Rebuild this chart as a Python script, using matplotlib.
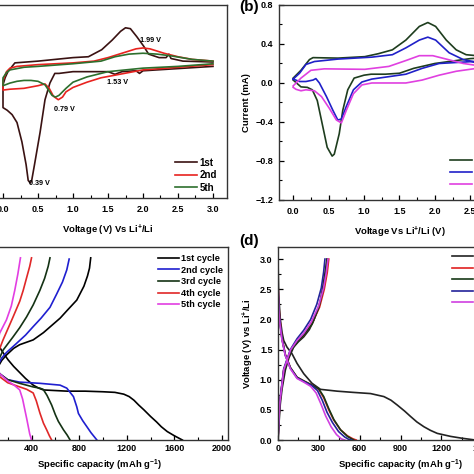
import matplotlib
matplotlib.use("Agg")
import matplotlib.pyplot as plt
from matplotlib.ticker import MultipleLocator

plt.rcParams['font.family'] = ['Liberation Sans', 'DejaVu Sans']
plt.rcParams['font.weight'] = 'bold'
plt.rcParams['mathtext.fontset'] = 'custom'
plt.rcParams['mathtext.rm'] = 'Liberation Sans:bold'
plt.rcParams['mathtext.it'] = 'Liberation Sans:bold'
plt.rcParams['mathtext.bf'] = 'Liberation Sans:bold'

# ---- (a) CV, cycles 1, 2, 5 ----
a_v1 = [3.0, 2.6, 2.2, 2.0, 1.95, 1.9, 1.7, 1.6, 1.5, 1.4, 1.0, 0.9, 0.8, 0.74, 0.67, 0.6, 0.53, 0.45,
        0.41, 0.39, 0.36, 0.33, 0.27, 0.2, 0.13, 0.06, 0.0, 0.0, 0.03, 0.07, 0.13, 0.17, 0.5, 1.0, 1.22,
        1.41, 1.56, 1.68, 1.75, 1.82, 1.91, 2.01, 2.08, 2.23, 2.33, 2.37, 2.4, 2.57, 3.0]
a_i1 = [-0.10, -0.12, -0.14, -0.15, -0.18, -0.15, -0.16, -0.19, -0.16, -0.16, -0.16, -0.17, -0.18,
        -0.18, -0.29, -0.48, -0.85, -1.22, -1.40, -1.43, -1.40, -1.22, -0.96, -0.74, -0.65, -0.60,
        -0.57, -0.31, -0.23, -0.16, -0.10, -0.06, -0.04, 0.00, 0.01, 0.09, 0.20, 0.30, 0.34, 0.33,
        0.24, 0.13, 0.04, 0.00, 0.00, 0.04, -0.01, -0.04, -0.05]

a_v2 = [3.0, 2.5, 2.0, 1.6, 1.4, 1.2, 1.0, 0.9, 0.85, 0.79, 0.72, 0.66, 0.6, 0.5, 0.3, 0.1, 0.0,
        0.0, 0.05, 0.1, 0.2, 0.5, 1.0, 1.3, 1.5, 1.7, 1.9, 2.0, 2.1, 2.3, 2.5, 2.7, 3.0]
a_i2 = [-0.08, -0.11, -0.14, -0.20, -0.23, -0.28, -0.34, -0.39, -0.45, -0.48, -0.44, -0.35, -0.30,
        -0.32, -0.35, -0.36, -0.37, -0.26, -0.16, -0.12, -0.10, -0.08, -0.06, -0.04, 0.00, 0.05,
        0.10, 0.11, 0.10, 0.05, 0.01, -0.02, -0.04]

a_v5 = [3.0, 2.5, 2.0, 1.5, 1.2, 1.0, 0.9, 0.8, 0.75, 0.7, 0.6, 0.5, 0.4, 0.3, 0.2, 0.1, 0.0,
        0.0, 0.05, 0.1, 0.3, 0.5, 1.0, 1.4, 1.6, 1.8, 2.0, 2.2, 2.4, 2.7, 3.0]
a_i5 = [-0.07, -0.10, -0.12, -0.16, -0.22, -0.28, -0.35, -0.43, -0.45, -0.43, -0.31, -0.27,
        -0.26, -0.26, -0.27, -0.29, -0.32, -0.23, -0.17, -0.14, -0.11, -0.10, -0.07, -0.04, 0.01,
        0.04, 0.05, 0.04, 0.02, -0.02, -0.04]

a_labels = ['1st', '2nd', '5th']
a_peaks = [(1.96, 0.19, '1.99 V'), (1.49, -0.28, '1.53 V'), (0.73, -0.59, '0.79 V'), (0.37, -1.43, '0.39 V')]

# ---- (b) CV ----
b_v1 = [0.0, 0.11, 0.23, 0.28, 0.63, 1.01, 1.2, 1.4, 1.59, 1.78, 1.9, 2.01, 2.16, 2.3, 2.44, 2.59, 3.0,
        2.5, 2.0, 1.7, 1.5, 1.3, 1.1, 1.0, 0.86, 0.77, 0.7, 0.65, 0.58, 0.55, 0.48, 0.41, 0.34, 0.27,
        0.2, 0.11, 0.0]
b_i1 = [0.05, 0.13, 0.24, 0.26, 0.255, 0.27, 0.30, 0.34, 0.44, 0.58, 0.62, 0.58, 0.44, 0.34, 0.29,
        0.28, 0.27, 0.25, 0.20, 0.15, 0.10, 0.09, 0.09, 0.08, 0.05, -0.07, -0.28, -0.52, -0.73, -0.75,
        -0.66, -0.42, -0.18, -0.07, -0.045, -0.04, 0.03]

b_v2 = [0.0, 0.09, 0.18, 0.3, 0.63, 1.11, 1.4, 1.59, 1.78, 1.9, 2.01, 2.2, 2.4, 2.59, 3.0,
        2.54, 2.06, 1.82, 1.59, 1.4, 1.11, 0.97, 0.85, 0.75, 0.68, 0.63, 0.56, 0.47, 0.37, 0.32,
        0.28, 0.18, 0.09, 0.0]
b_i2 = [0.04, 0.10, 0.19, 0.22, 0.245, 0.265, 0.29, 0.36, 0.44, 0.47, 0.44, 0.31, 0.24, 0.21, 0.20,
        0.22, 0.20, 0.15, 0.09, 0.07, 0.04, 0.01, -0.07, -0.24, -0.37, -0.38, -0.28, -0.14, 0.00,
        0.045, 0.03, 0.015, 0.015, 0.04]

b_v3 = [0.0, 0.11, 0.25, 0.44, 1.01, 1.35, 1.59, 1.78, 1.97, 2.16, 2.4, 2.59, 3.0,
        2.59, 2.3, 2.06, 1.82, 1.59, 1.35, 1.11, 0.97, 0.85, 0.75, 0.68, 0.61, 0.51, 0.4, 0.3, 0.18,
        0.11, 0.04, 0.0]
b_i3 = [-0.03, 0.05, 0.13, 0.145, 0.14, 0.17, 0.23, 0.28, 0.28, 0.245, 0.20, 0.18, 0.17,
        0.15, 0.12, 0.08, 0.03, 0.00, 0.00, 0.00, -0.02, -0.11, -0.28, -0.41, -0.38, -0.26, -0.14,
        -0.08, -0.07, -0.08, -0.065, -0.045]

b_labels = ['1st', '2nd', '5th']

# ---- (c) charge/discharge ----
c1_dis_q = [0, 20, 50, 100, 150, 203, 250, 300, 350, 414, 460, 500, 600, 700, 850, 1000, 1100, 1175,
            1220, 1260, 1300, 1344, 1400, 1450, 1490, 1540, 1600, 1667]
c1_dis_v = [3.0, 2.3, 1.9, 1.65, 1.48, 1.33, 1.22, 1.12, 1.02, 0.91, 0.86, 0.83, 0.82, 0.81, 0.81, 0.8,
            0.79, 0.76, 0.72, 0.66, 0.58, 0.5, 0.39, 0.3, 0.22, 0.14, 0.07, 0.0]
c1_ch_q = [0, 20, 50, 100, 150, 190, 250, 300, 414, 500, 640, 700, 780, 840, 870, 887, 897]
c1_ch_v = [0.0, 0.5, 0.9, 1.15, 1.32, 1.41, 1.52, 1.58, 1.66, 1.78, 2.02, 2.15, 2.32, 2.55, 2.72, 2.85, 3.02]

c2_dis_q = [0, 30, 80, 132, 200, 300, 470, 640, 696, 752, 780, 794, 830, 865, 900, 949]
c2_dis_v = [3.0, 2.0, 1.4, 1.1, 1.0, 0.96, 0.94, 0.91, 0.86, 0.72, 0.55, 0.44, 0.32, 0.22, 0.12, 0.0]
c2_ch_q = [0, 20, 50, 100, 150, 189, 273, 350, 414, 480, 555, 611, 660, 696, 716]
c2_ch_v = [0.0, 0.5, 0.9, 1.18, 1.36, 1.45, 1.6, 1.74, 1.88, 2.02, 2.2, 2.42, 2.62, 2.82, 3.0]

c3_dis_q = [0, 30, 80, 132, 200, 300, 414, 470, 498, 530, 569, 600, 625, 668, 700, 724]
c3_dis_v = [3.0, 1.9, 1.3, 1.1, 1.0, 0.94, 0.88, 0.86, 0.84, 0.74, 0.58, 0.42, 0.31, 0.17, 0.08, 0.0]
c3_ch_q = [0, 20, 50, 100, 161, 245, 300, 358, 414, 470, 510, 540, 555]
c3_ch_v = [0.0, 0.5, 0.9, 1.22, 1.49, 1.71, 1.86, 2.04, 2.24, 2.48, 2.68, 2.88, 3.02]

c4_dis_q = [0, 30, 80, 132, 200, 301, 360, 414, 440, 470, 500, 527, 550, 569]
c4_dis_v = [3.0, 1.8, 1.25, 1.05, 0.95, 0.88, 0.84, 0.78, 0.65, 0.45, 0.28, 0.17, 0.07, 0.0]
c4_ch_q = [0, 20, 50, 100, 161, 245, 301, 330, 360, 385, 400]
c4_ch_v = [0.0, 0.5, 0.95, 1.35, 1.66, 2.04, 2.3, 2.48, 2.7, 2.88, 3.02]

c5_dis_q = [0, 30, 80, 132, 200, 260, 301, 325, 344, 360, 372, 385, 400]
c5_dis_v = [3.0, 1.7, 1.2, 1.1, 0.98, 0.9, 0.83, 0.68, 0.5, 0.35, 0.23, 0.1, 0.0]
c5_ch_q = [0, 20, 50, 100, 132, 189, 230, 259, 285, 307]
c5_ch_v = [0.0, 0.5, 1.0, 1.5, 1.77, 1.99, 2.22, 2.48, 2.75, 3.02]

c_labels = ['1st cycle', '2nd cycle', '3rd cycle', '4th cycle', '5th cycle']

# ---- (d) charge/discharge ----
d1_dis_q = [0, 5, 17, 30, 42, 66, 103, 140, 189, 250, 312, 434, 550, 680, 778, 830, 876, 930, 974,
            1020, 1072, 1120, 1170, 1268, 1350, 1450]
d1_dis_v = [3.0, 2.4, 2.0, 1.78, 1.65, 1.54, 1.43, 1.27, 1.1, 0.94, 0.84, 0.81, 0.79, 0.77, 0.72,
            0.66, 0.58, 0.48, 0.39, 0.3, 0.22, 0.16, 0.11, 0.06, 0.03, 0.0]
d1_ch_q = [0, 8, 17, 30, 54, 80, 115, 150, 189, 230, 262, 290, 312, 330, 348, 361]
d1_ch_v = [0.0, 0.3, 0.6, 0.85, 1.16, 1.36, 1.54, 1.63, 1.71, 1.83, 1.98, 2.15, 2.31, 2.55, 2.81, 3.0]

d2_dis_q = [0, 5, 12, 29, 54, 91, 140, 189, 250, 299, 336, 373, 410, 459, 510, 550, 574]
d2_dis_v = [2.6, 2.3, 2.05, 1.7, 1.42, 1.2, 1.04, 0.98, 0.91, 0.84, 0.7, 0.5, 0.33, 0.17, 0.07, 0.02, 0.0]
d2_ch_q = [0, 12, 42, 91, 140, 189, 250, 305, 340, 362, 373]
d2_ch_v = [0.0, 0.6, 1.16, 1.48, 1.63, 1.74, 1.93, 2.2, 2.5, 2.78, 3.0]

d3_dis_q = [0, 5, 12, 29, 54, 91, 140, 189, 250, 299, 336, 373, 410, 459, 510, 540, 557]
d3_dis_v = [2.5, 2.25, 2.0, 1.68, 1.41, 1.2, 1.04, 0.98, 0.91, 0.85, 0.72, 0.52, 0.34, 0.17, 0.06, 0.02, 0.0]
d3_ch_q = [0, 12, 42, 91, 140, 189, 250, 300, 332, 350, 360]
d3_ch_v = [0.0, 0.6, 1.15, 1.47, 1.62, 1.74, 1.92, 2.2, 2.5, 2.78, 3.0]

d4_dis_q = [0, 5, 12, 29, 54, 91, 140, 189, 250, 290, 325, 360, 400, 445, 490, 520, 540]
d4_dis_v = [2.55, 2.25, 2.0, 1.68, 1.4, 1.19, 1.03, 0.97, 0.9, 0.82, 0.66, 0.46, 0.29, 0.14, 0.05, 0.01, 0.0]
d4_ch_q = [0, 12, 42, 91, 140, 189, 240, 285, 318, 335, 345]
d4_ch_v = [0.0, 0.62, 1.18, 1.5, 1.68, 1.82, 2.0, 2.25, 2.52, 2.78, 3.0]

d5_dis_q = [0, 5, 12, 29, 54, 91, 140, 189, 240, 280, 315, 350, 390, 430, 465, 490]
d5_dis_v = [2.6, 2.2, 1.95, 1.66, 1.4, 1.18, 1.02, 0.96, 0.89, 0.78, 0.6, 0.4, 0.22, 0.09, 0.02, 0.0]
d5_ch_q = [0, 12, 42, 91, 140, 189, 245, 298, 335, 355, 367]
d5_ch_v = [0.0, 0.6, 1.16, 1.49, 1.65, 1.77, 1.96, 2.22, 2.52, 2.78, 3.0]

d_labels = ['1st cycle', '2nd cycle', '3rd cycle', '4th cycle', '5th cycle']

lw = 1.2
tick_fs = 6.5
lab_fs = 6.8


def style(ax, pad=5):
    for s in ax.spines.values():
        s.set_color('#333333')
        s.set_linewidth(1.0)
    ax.tick_params(which='major', direction='in', length=3.5, width=0.9, labelsize=tick_fs, pad=pad)
    ax.tick_params(which='minor', direction='in', length=2, width=0.8)
    ax.tick_params(axis='y', pad=4)
    for t in ax.get_xticklabels() + ax.get_yticklabels():
        t.set_fontweight('bold')


fig = plt.figure(figsize=(4.74, 4.74), dpi=100)

# (a)
ax = fig.add_axes([-0.0232, 0.5823, 0.5021, 0.4072])
ax.plot(a_v1, a_i1, color='#3a1212', lw=lw, label=a_labels[0])
ax.plot(a_v2, a_i2, color='#e8231f', lw=lw, label=a_labels[1])
ax.plot(a_v5, a_i5, color='#2d6f2d', lw=lw, label=a_labels[2])
for x, y, t in a_peaks:
    ax.text(x, y, t, fontsize=5.2, fontweight='bold', va='center', ha='left')
ax.set_xlim(-0.2, 3.2)
ax.set_ylim(-1.6, 0.6)
ax.xaxis.set_major_locator(MultipleLocator(0.5))
ax.xaxis.set_minor_locator(MultipleLocator(0.25))
ax.set_yticks([])
ax.set_xlabel(r'Voltage (V) Vs Li$^{+}$/Li', fontsize=lab_fs, fontweight='bold', labelpad=6)
style(ax)
ax.legend(loc='upper left', bbox_to_anchor=(0.369, 0.667), bbox_transform=fig.transFigure,
          frameon=False, fontsize=7, handlelength=2.3, handletextpad=0.2, labelspacing=0.25,
          borderpad=0, borderaxespad=0)

# (b)
ax = fig.add_axes([0.5886, 0.5781, 0.5084, 0.4114])
ax.plot(b_v1, b_i1, color='#1e3d1e', lw=lw, label=b_labels[0])
ax.plot(b_v2, b_i2, color='#2020c8', lw=lw, label=b_labels[1])
ax.plot(b_v3, b_i3, color='#e040e0', lw=lw, label=b_labels[2])
ax.set_xlim(-0.2, 3.2)
ax.set_ylim(-1.2, 0.8)
ax.xaxis.set_major_locator(MultipleLocator(0.5))
ax.xaxis.set_minor_locator(MultipleLocator(0.25))
ax.yaxis.set_major_locator(MultipleLocator(0.4))
ax.yaxis.set_minor_locator(MultipleLocator(0.2))
ax.set_xlabel(r'Voltage Vs Li$^{+}$/Li (V)', fontsize=lab_fs, fontweight='bold', labelpad=6)
ax.set_ylabel('Current (mA)', fontsize=lab_fs, fontweight='bold', labelpad=3)
style(ax)
ax.legend(loc='upper left', bbox_to_anchor=(0.949, 0.673), bbox_transform=fig.transFigure,
          frameon=False, fontsize=7, handlelength=2.3, handletextpad=0.2, labelspacing=0.25,
          borderpad=0, borderaxespad=0)
fig.text(0.505, 0.985, '(b)', fontsize=11, fontweight='bold', va='center', ha='left')

# (c)
ax = fig.add_axes([-0.0591, 0.0717, 0.5401, 0.4072])
c_cols = ['#000000', '#1f1fd0', '#143214', '#e02828', '#e23ee2']
c_dis = [(c1_dis_q, c1_dis_v), (c2_dis_q, c2_dis_v), (c3_dis_q, c3_dis_v), (c4_dis_q, c4_dis_v), (c5_dis_q, c5_dis_v)]
c_ch = [(c1_ch_q, c1_ch_v), (c2_ch_q, c2_ch_v), (c3_ch_q, c3_ch_v), (c4_ch_q, c4_ch_v), (c5_ch_q, c5_ch_v)]
for (dq, dv), (cq, cv), col, lab in zip(c_dis, c_ch, c_cols, c_labels):
    ax.plot(dq, dv, color=col, lw=lw, label=lab)
    ax.plot(cq, cv, color=col, lw=lw)
ax.set_xlim(-100, 2050)
ax.set_ylim(0, 3.2)
ax.xaxis.set_major_locator(MultipleLocator(400))
ax.xaxis.set_minor_locator(MultipleLocator(200))
ax.set_yticks([])
ax.set_xlabel(r'Specific capacity (mAh g$^{-1}$)', fontsize=lab_fs, fontweight='bold', labelpad=3)
style(ax, pad=3)
ax.legend(loc='upper left', bbox_to_anchor=(0.333, 0.464), bbox_transform=fig.transFigure,
          frameon=False, fontsize=6.6, handlelength=2.3, handletextpad=0.2, labelspacing=0.28,
          borderpad=0, borderaxespad=0)

# (d)
ax = fig.add_axes([0.5865, 0.0717, 0.5169, 0.4072])
d_cols = ['#222222', '#e02020', '#163816', '#23239a', '#d040e0']
d_dis = [(d1_dis_q, d1_dis_v), (d2_dis_q, d2_dis_v), (d3_dis_q, d3_dis_v), (d4_dis_q, d4_dis_v), (d5_dis_q, d5_dis_v)]
d_ch = [(d1_ch_q, d1_ch_v), (d2_ch_q, d2_ch_v), (d3_ch_q, d3_ch_v), (d4_ch_q, d4_ch_v), (d5_ch_q, d5_ch_v)]
for (dq, dv), (cq, cv), col, lab in zip(d_dis, d_ch, d_cols, d_labels):
    ax.plot(dq, dv, color=col, lw=lw, label=lab)
    ax.plot(cq, cv, color=col, lw=lw)
ax.set_xlim(0, 1800)
ax.set_ylim(0, 3.2)
ax.xaxis.set_major_locator(MultipleLocator(300))
ax.xaxis.set_minor_locator(MultipleLocator(150))
ax.yaxis.set_major_locator(MultipleLocator(0.5))
ax.yaxis.set_minor_locator(MultipleLocator(0.25))
ax.set_xlabel(r'Specific capacity (mAh g$^{-1}$)', fontsize=lab_fs, fontweight='bold', labelpad=3)
ax.set_ylabel(r'Voltage (V) vs Li$^{+}$/Li', fontsize=lab_fs, fontweight='bold', labelpad=3)
style(ax, pad=3)
ax.legend(loc='upper left', bbox_to_anchor=(0.954, 0.468), bbox_transform=fig.transFigure,
          frameon=False, fontsize=6.6, handlelength=2.3, handletextpad=0.2, labelspacing=0.28,
          borderpad=0, borderaxespad=0)
fig.text(0.505, 0.492, '(d)', fontsize=11, fontweight='bold', va='center', ha='left')

fig.savefig('out.png', dpi=100)
